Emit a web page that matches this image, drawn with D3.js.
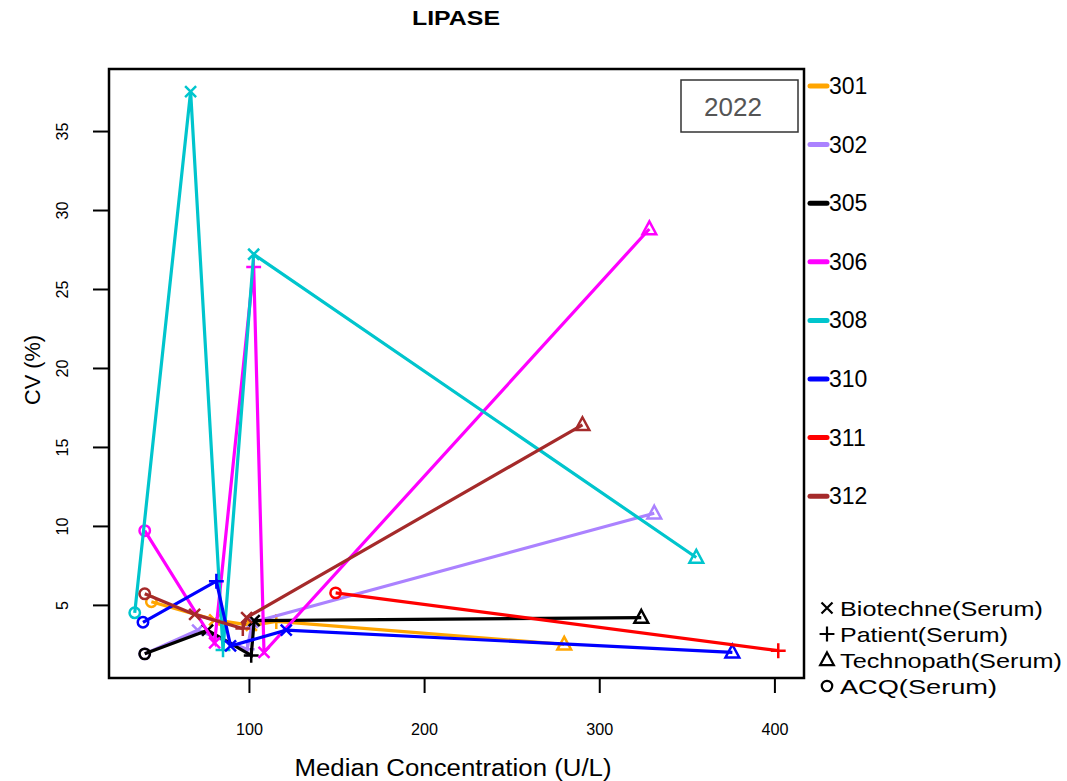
<!DOCTYPE html>
<html>
<head>
<meta charset="utf-8">
<script src="https://cdn.jsdelivr.net/npm/d3@7"></script>
<style>
  body { margin: 0; background: #fff; }
  text { font-family: "Liberation Sans", Arial, sans-serif; }
</style>
</head>
<body>
<script>
// labs and their colours
var labs = ["301", "302", "305", "306", "308", "310", "311", "312"];
var labColors = ["#FFA500", "#AB82FF", "#000000", "#FF00FF", "#00C5CD", "#0000FF", "#FF0000", "#A52A2A"];

// materials: A = ACQ, B = Biotechne, P = Patient, T = Technopath
var materials = ["B", "P", "T", "A"];
var materialNames = ["Biotechne(Serum)", "Patient(Serum)", "Technopath(Serum)", "ACQ(Serum)"];

// per lab: [median concentration, CV %, material]
var lab301 = [[44.3, 5.2, "A"], [80.4, 4.05, "B"], [101.4, 3.7, "B"], [115.6, 3.95, "P"], [280, 2.5, "T"]];
var lab302 = [[40.5, 1.9, "A"], [70.7, 3.4, "B"], [99, 2.2, "P"], [102, 3.9, "B"], [331.4, 10.8, "T"]];
var lab305 = [[40.5, 1.9, "A"], [76.4, 3.4, "B"], [101.3, 1.8, "P"], [103, 4.0, "B"], [324, 4.2, "T"]];
var lab306 = [[40.5, 9.7, "A"], [80.4, 2.6, "B"], [102.7, 26.4, "P"], [108.6, 2.0, "B"], [328.6, 28.8, "T"]];
var lab308 = [[34.8, 4.5, "A"], [66.7, 37.5, "B"], [85.2, 2.15, "P"], [102.7, 27.2, "B"], [355.4, 8.0, "T"]];
var lab310 = [[39.5, 3.9, "A"], [81.4, 6.5, "P"], [89.5, 2.4, "B"], [121.3, 3.4, "B"], [376, 2.0, "T"]];
var lab311 = [[149.5, 5.76, "A"], [402.2, 2.1, "P"]];
var lab312 = [[40.5, 5.7, "A"], [69, 4.4, "B"], [96.5, 3.5, "P"], [98.7, 4.2, "B"], [290.4, 16.4, "T"]];
var labData = [lab301, lab302, lab305, lab306, lab308, lab310, lab311, lab312];

var xTicks = [100, 200, 300, 400];
var yTicks = [5, 10, 15, 20, 25, 30, 35];

var W = 1067, H = 781;
var plot = {left: 109, right: 804, top: 69, bottom: 678};

var svg = d3.select("body").append("svg")
    .attr("width", W)
    .attr("height", H);

var all = d3.merge(labData);
var xExt = d3.extent(all, function(d) { return d[0]; }),
    yExt = d3.extent(all, function(d) { return d[1]; });
var xPad = (xExt[1] - xExt[0]) * 0.04,
    yPad = (yExt[1] - yExt[0]) * 0.04;

var x = d3.scaleLinear()
    .domain([xExt[0] - xPad, xExt[1] + xPad])
    .range([plot.left, plot.right]);

var y = d3.scaleLinear()
    .domain([yExt[0] - yPad, yExt[1] + yPad])
    .range([plot.bottom, plot.top]);

// title
svg.append("text")
    .attr("x", 456).attr("y", 25)
    .attr("text-anchor", "middle")
    .attr("textLength", 88).attr("lengthAdjust", "spacingAndGlyphs")
    .style("font-size", "20px").style("font-weight", "bold")
    .text("LIPASE");

// axes
var xAxis = d3.axisBottom(x).tickValues(xTicks).tickSize(15).tickPadding(30);
var gx = svg.append("g")
    .attr("transform", "translate(0," + plot.bottom + ")")
    .call(xAxis)
    .attr("font-size", 17)
    .attr("font-family", "Liberation Sans, Arial, sans-serif");
gx.select(".domain").remove();
gx.selectAll(".tick line").attr("stroke-width", 2);
gx.selectAll(".tick text")
    .attr("textLength", 27).attr("lengthAdjust", "spacingAndGlyphs")
    .attr("fill", "#000");

var yAxis = d3.axisLeft(y).tickValues(yTicks).tickSize(16).tickFormat(d3.format("d"));
var gy = svg.append("g")
    .attr("transform", "translate(" + plot.left + ",0)")
    .call(yAxis)
    .attr("font-size", 17)
    .attr("font-family", "Liberation Sans, Arial, sans-serif");
gy.select(".domain").remove();
gy.selectAll(".tick line").attr("stroke-width", 2);
gy.selectAll(".tick text")
    .attr("x", null).attr("dy", null)
    .attr("transform", "translate(-47,0) rotate(-90)")
    .attr("text-anchor", "middle")
    .attr("dominant-baseline", "central")
    .attr("textLength", function(d) { return String(d).length * 9; })
    .attr("lengthAdjust", "spacingAndGlyphs")
    .attr("fill", "#000");

svg.append("text")
    .attr("transform", "translate(32,370) rotate(-90)")
    .attr("text-anchor", "middle")
    .attr("dominant-baseline", "central")
    .attr("textLength", 70).attr("lengthAdjust", "spacingAndGlyphs")
    .style("font-size", "22px")
    .text("CV (%)");

svg.append("text")
    .attr("x", 453).attr("y", 776)
    .attr("text-anchor", "middle")
    .attr("textLength", 317).attr("lengthAdjust", "spacingAndGlyphs")
    .style("font-size", "23px")
    .text("Median Concentration  (U/L)");

// markers
function marker(g, m, s) {
  if (m === "B") {
    g.append("path").attr("d", "M" + (-s) + "," + (-s) + "L" + s + "," + s + "M" + (-s) + "," + s + "L" + s + "," + (-s));
  } else if (m === "P") {
    var p = s * 1.35;
    g.append("path").attr("d", "M" + (-p) + ",0L" + p + ",0M0," + (-p) + "L0," + p);
  } else if (m === "T") {
    var t = s * 1.25;
    g.append("path").attr("d", "M0," + (-t * 1.1) + "L" + t + "," + (t * 0.75) + "L" + (-t) + "," + (t * 0.75) + "Z");
  } else {
    g.append("circle").attr("r", s * 0.95);
  }
}

var line = d3.line()
    .x(function(d) { return x(d[0]); })
    .y(function(d) { return y(d[1]); });

labData.forEach(function(pts, i) {
  var col = labColors[i];
  var sorted = pts.slice().sort(function(a, b) { return a[0] - b[0]; });
  var g = svg.append("g");
  g.append("path")
    .attr("d", line(sorted))
    .attr("fill", "none")
    .attr("stroke", col)
    .attr("stroke-width", 3.2);
  pts.forEach(function(d) {
    var mg = g.append("g")
      .attr("transform", "translate(" + x(d[0]) + "," + y(d[1]) + ")")
      .attr("fill", "none")
      .attr("stroke", col)
      .attr("stroke-width", 2.5);
    marker(mg, d[2], 5.5);
  });
});

// plot box
svg.append("rect")
    .attr("x", plot.left).attr("y", plot.top)
    .attr("width", plot.right - plot.left).attr("height", plot.bottom - plot.top)
    .attr("fill", "none").attr("stroke", "#000").attr("stroke-width", 2.5);

// year box
svg.append("rect")
    .attr("x", 681).attr("y", 80).attr("width", 117).attr("height", 52)
    .attr("fill", "#fff").attr("stroke", "#333").attr("stroke-width", 1.5);
svg.append("text")
    .attr("x", 733).attr("y", 107)
    .attr("text-anchor", "middle").attr("dominant-baseline", "central")
    .style("font-size", "26px").attr("fill", "#555")
    .text("2022");

// lab legend
var leg = svg.append("g");
labs.forEach(function(l, i) {
  var ly = 86 + i * 58.6;
  leg.append("line")
    .attr("x1", 810).attr("x2", 827).attr("y1", ly).attr("y2", ly)
    .attr("stroke", labColors[i]).attr("stroke-width", 5).attr("stroke-linecap", "round");
  leg.append("text")
    .attr("x", 829).attr("y", ly)
    .attr("dominant-baseline", "central")
    .style("font-size", "23px")
    .text(l);
});

// material legend
var matWidths = [203, 168, 222, 157];
materials.forEach(function(m, i) {
  var ly = 608 + i * 26;
  var mg = leg.append("g")
    .attr("transform", "translate(827," + ly + ")")
    .attr("fill", "none").attr("stroke", "#000").attr("stroke-width", 2.2);
  marker(mg, m, 5.5);
  leg.append("text")
    .attr("x", 840).attr("y", ly)
    .attr("dominant-baseline", "central")
    .attr("textLength", matWidths[i]).attr("lengthAdjust", "spacingAndGlyphs")
    .style("font-size", "21px")
    .text(materialNames[i]);
});
</script>
</body>
</html>
